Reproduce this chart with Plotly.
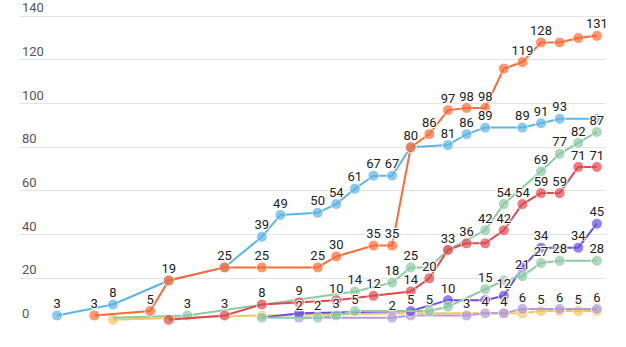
import plotly.graph_objects as go

N = 30
idx = list(range(N))

def series(d):
    return [d.get(i) for i in idx]

def labels(d, hide):
    return ["" if (i not in d or i in hide) else str(d[i]) for i in idx]

blue = {0: 3, 3: 8, 6: 19, 9: 25, 11: 39, 12: 49, 14: 50, 15: 54, 16: 61, 17: 67, 18: 67,
        19: 80, 21: 81, 22: 86, 23: 89, 25: 89, 26: 91, 27: 93, 29: 93}
blue_hide = {6, 19, 29}

orange = {2: 3, 5: 5, 6: 19, 9: 25, 11: 25, 14: 25, 15: 30, 17: 35, 18: 35, 19: 80, 20: 86,
          21: 97, 22: 98, 23: 98, 24: 116, 25: 119, 26: 128, 27: 128, 28: 130, 29: 131}
orange_hide = {9, 24, 27, 28}

red = {6: 1, 9: 3, 11: 8, 13: 9, 15: 10, 17: 12, 19: 14, 20: 20, 21: 33, 22: 36, 23: 36,
       24: 42, 25: 54, 26: 59, 27: 59, 28: 71, 29: 71}
red_hide = {6, 23}

green_a = {3: 2, 7: 3, 16: 14, 18: 18, 19: 25, 20: 25, 21: 33, 23: 42, 24: 54, 26: 69,
           27: 77, 28: 82, 29: 87}
green_a_hide = {3, 20, 21}

green_b = {11: 2, 14: 2, 15: 3, 16: 5, 20: 5, 21: 7, 23: 15, 24: 19, 25: 21, 26: 27,
           27: 28, 29: 28}
green_b_hide = {11, 21, 24}

purple = {11: 2, 13: 4, 19: 5, 21: 10, 23: 10, 24: 12, 25: 25, 26: 34, 28: 34, 29: 45}
purple_hide = {11, 13, 23, 25}

lilac = {13: 2, 18: 2, 19: 3, 22: 3, 23: 4, 24: 4, 25: 6, 27: 6, 29: 6}
lilac_hide = {19}

yellow = {3: 1, 11: 3, 19: 4, 24: 4, 25: 4, 26: 5, 27: 5, 28: 5, 29: 5}
yellow_hide = {3, 11, 19, 24, 25, 27, 29}

y_ticks = [0, 20, 40, 60, 80, 100, 120, 140]

# (data, label-hidden points, colour, points drawn without a marker)
traces = [
    (yellow, yellow_hide, "#f4c75e", set()),
    (lilac, lilac_hide, "#b29bd8", set()),
    (purple, purple_hide, "#6b4ee4", {11}),
    (green_b, green_b_hide, "#8ccaa2", set()),
    (green_a, green_a_hide, "#8ccaa2", {3}),
    (red, red_hide, "#de4a4f", set()),
    (blue, blue_hide, "#5bb5e6", set()),
    (orange, orange_hide, "#fe6a35", set()),
]

fig = go.Figure()
for d, hide, col, nomark in traces:
    sizes = [0 if i in nomark else 11 for i in idx]
    fig.add_trace(go.Scatter(
        x=idx, y=series(d),
        mode="lines+markers", connectgaps=True,
        line=dict(color=col, width=2),
        marker=dict(color=col, size=sizes, line=dict(color="white", width=1)),
        cliponaxis=False, showlegend=False, hoverinfo="skip",
    ))

halo = "1px 1px 1px #fff, -1px -1px 1px #fff, 1px -1px 1px #fff, -1px 1px 1px #fff"
for d, hide, col, nomark in traces:
    fig.add_trace(go.Scatter(
        x=idx, y=series(d), text=labels(d, hide),
        mode="markers+text",
        marker=dict(size=5, opacity=0),
        textposition="top center",
        textfont=dict(family="Roboto", size=13, color="#222222", shadow=halo),
        cliponaxis=False, showlegend=False, hoverinfo="skip",
    ))

for v in y_ticks:
    fig.add_annotation(x=0, xref="paper", xanchor="left", xshift=0,
                       y=v, yref="y", yanchor="bottom", yshift=-1,
                       text=str(v), showarrow=False,
                       font=dict(family="Roboto", size=13, color="#555555"))

fig.update_layout(
    width=626, height=347,
    margin=dict(l=20, r=20, t=14, b=25),
    plot_bgcolor="white", paper_bgcolor="white",
    xaxis=dict(range=[-1.99, 29.49], showgrid=False, zeroline=False,
               showticklabels=False, ticks=""),
    yaxis=dict(range=[0, 141], tickvals=y_ticks, showgrid=True, gridcolor="#e3e3e3",
               gridwidth=1, zeroline=False, ticks="", showticklabels=False),
)
fig.write_html("out.html")
